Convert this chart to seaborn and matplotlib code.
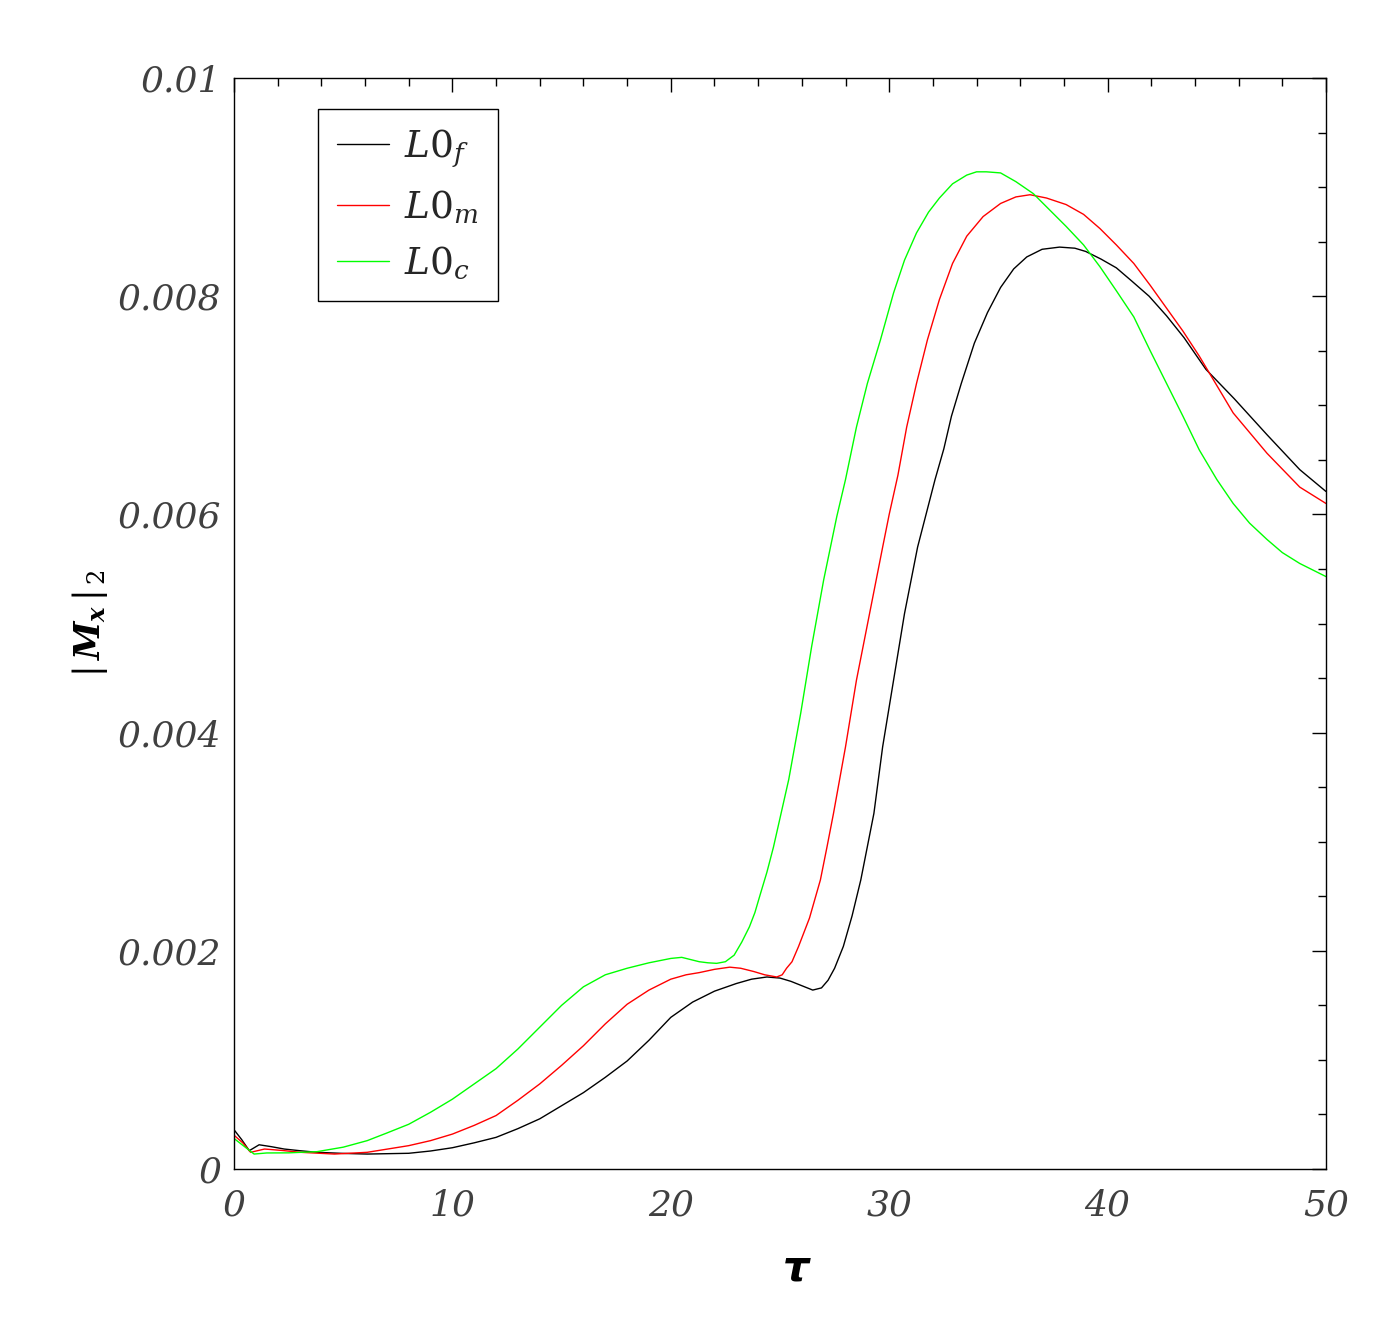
import numpy as np
import pandas as pd
import matplotlib
matplotlib.use("Agg")
import matplotlib.pyplot as plt
import seaborn as sns
from matplotlib.ticker import MultipleLocator, FixedLocator, FixedFormatter
from matplotlib.lines import Line2D

# ---------------- data ----------------
tau_f = [0, 0.35, 0.7, 1.15, 1.7, 2.3, 3.0, 3.8, 5.0, 6.1, 8.0, 9.0, 10.0, 11.0,
         12.0, 13.0, 14.0, 15.0, 16.0, 17.0, 18.0, 19.0, 20.0, 21.0, 22.0, 23.0,
         23.7, 24.4, 25.0, 25.5, 26.0, 26.5, 26.9, 27.2, 27.5, 27.9, 28.3, 28.7,
         29.3, 29.7, 30.2, 30.7, 31.3, 32.1, 32.5, 32.85, 33.3, 33.9, 34.5, 35.1,
         35.7, 36.3, 37.0, 37.8, 38.5, 39.0, 39.7, 40.4, 41.1, 41.9, 42.7, 43.5,
         44.5, 45.8, 47.3, 48.8, 50.0]
val_f = [0.00036, 0.00027, 0.000168, 0.000222, 0.000205, 0.000183, 0.000168,
         0.000153, 0.000143, 0.000137, 0.000144, 0.000165, 0.000195, 0.00024,
         0.00029, 0.00037, 0.00046, 0.00058, 0.0007, 0.00084, 0.00099, 0.00118,
         0.00139, 0.00153, 0.00163, 0.0017, 0.00174, 0.00176, 0.00175, 0.00172,
         0.00168, 0.00164, 0.00166, 0.00173, 0.00184, 0.00204, 0.00232, 0.00265,
         0.00326, 0.00387, 0.00448, 0.00509, 0.0057, 0.00632, 0.0066, 0.0069,
         0.0072, 0.00757, 0.00785, 0.00808, 0.00825, 0.00836, 0.00843, 0.00845,
         0.00844, 0.00841, 0.00834, 0.00826, 0.00814, 0.008, 0.00782, 0.00762,
         0.00733, 0.00706, 0.00673, 0.00641, 0.00621]

tau_m = [0, 0.4, 0.76, 1.4, 2.2, 3.05, 4.6, 6.1, 8.0, 9.0, 10.0, 11.0, 12.0,
         13.0, 14.0, 15.0, 16.0, 17.0, 18.0, 19.0, 20.0, 20.7, 21.3, 22.0, 22.7,
         23.2, 23.8, 24.3, 24.85, 25.1, 25.3, 25.55, 25.85, 26.35, 26.85, 27.15,
         27.45, 28.0, 28.5, 29.1, 29.7, 30.0, 30.4, 30.8, 31.25, 31.75, 32.3,
         32.9, 33.55, 34.3, 35.1, 35.8, 36.45, 37.2, 38.1, 38.9, 39.65, 40.4,
         41.2, 41.95, 42.7, 43.45, 44.2, 45.75, 47.3, 48.8, 50.0]
val_m = [0.00031, 0.00024, 0.000153, 0.000183, 0.00017, 0.000153, 0.000137,
         0.000153, 0.000214, 0.00026, 0.00032, 0.0004, 0.00049, 0.00063, 0.00078,
         0.00095, 0.00113, 0.00133, 0.00151, 0.00164, 0.00174, 0.00178, 0.0018,
         0.00183, 0.00185, 0.00184, 0.00181, 0.00178, 0.00176, 0.00178, 0.00184,
         0.0019, 0.00204, 0.0023, 0.00265, 0.00295, 0.00326, 0.00387, 0.00448,
         0.00509, 0.0057, 0.006, 0.00636, 0.0068, 0.0072, 0.0076, 0.00797,
         0.0083, 0.00855, 0.00873, 0.00885, 0.00891, 0.00893, 0.0089, 0.00884,
         0.00875, 0.00862, 0.00847, 0.0083, 0.0081, 0.00789, 0.00768, 0.00745,
         0.00693, 0.00656, 0.00625, 0.0061]

tau_c = [0, 0.45, 0.92, 1.5, 2.5, 3.8, 5.0, 6.1, 7.0, 8.0, 9.0, 10.0, 11.0,
         12.0, 13.0, 14.0, 15.0, 16.0, 17.0, 18.0, 19.0, 20.0, 20.5, 21.3, 21.7,
         22.1, 22.5, 22.9, 23.25, 23.6, 23.85, 24.1, 24.4, 24.7, 25.4, 25.95,
         26.45, 27.0, 27.6, 28.0, 28.5, 29.0, 29.6, 30.2, 30.7, 31.25, 31.8,
         32.3, 32.9, 33.55, 34.0, 34.45, 35.1, 35.8, 36.6, 37.3, 38.1, 38.9,
         39.65, 40.4, 41.2, 41.95, 42.7, 43.45, 44.2, 45.0, 45.75, 46.5, 47.3,
         48.0, 48.8, 49.4, 50.0]
val_c = [0.00028, 0.00021, 0.000137, 0.000147, 0.000148, 0.000159, 0.0002,
         0.00026, 0.00033, 0.00041, 0.00052, 0.00064, 0.00078, 0.00092, 0.0011,
         0.0013, 0.0015, 0.00167, 0.00178, 0.00184, 0.00189, 0.00193, 0.00194,
         0.0019, 0.00189, 0.001885, 0.0019, 0.00196, 0.00208, 0.00222, 0.00235,
         0.00252, 0.00272, 0.00295, 0.00357, 0.00418, 0.00479, 0.0054, 0.00598,
         0.00632, 0.0068, 0.0072, 0.0076, 0.00803, 0.00833, 0.00858, 0.00877,
         0.0089, 0.00903, 0.00911, 0.00914, 0.00914, 0.00913, 0.00905, 0.00894,
         0.0088, 0.00864, 0.00847, 0.00827, 0.00805, 0.00781, 0.0075, 0.0072,
         0.0069, 0.00659, 0.00632, 0.0061, 0.00592, 0.00577, 0.00565, 0.00555,
         0.00549, 0.00543]

series_names = [r"$\mathit{L0}_{\mathit{f}}$", r"$\mathit{L0}_{\mathit{m}}$",
                r"$\mathit{L0}_{\mathit{c}}$"]
series_colors = ["#000000", "#ff0000", "#00ff00"]

xticks = [0, 10, 20, 30, 40, 50]
xtick_labels = ["0", "10", "20", "30", "40", "50"]
yticks = [0, 0.002, 0.004, 0.006, 0.008, 0.01]
ytick_labels = ["0", "0.002", "0.004", "0.006", "0.008", "0.01"]

# ---------------- build long table ----------------
frames = []
for name, t, v in zip(series_names, [tau_f, tau_m, tau_c], [val_f, val_m, val_c]):
    assert len(t) == len(v), (name, len(t), len(v))
    frames.append(pd.DataFrame({"tau": t, "val": v, "series": name}))
df = pd.concat(frames, ignore_index=True)

# ---------------- style ----------------
sns.set_theme(style="white")
plt.rcParams["font.family"] = ["DejaVu Serif"]
plt.rcParams["mathtext.fontset"] = "custom"
plt.rcParams["mathtext.rm"] = "DejaVu Serif"
plt.rcParams["mathtext.it"] = "DejaVu Serif:italic"
plt.rcParams["mathtext.bf"] = "DejaVu Serif:italic:bold"
plt.rcParams["lines.solid_joinstyle"] = "round"

W, H = 1394, 1332
fig = plt.figure(figsize=(W / 100, H / 100), dpi=100)
fig.patch.set_facecolor("white")
ax = fig.add_axes([234 / W, 1 - 1169 / H, (1326 - 234) / W, (1169 - 78) / H])
ax.set_facecolor("white")

sns.lineplot(data=df, x="tau", y="val", hue="series",
             palette=dict(zip(series_names, series_colors)),
             estimator=None, sort=False, linewidth=1.0, ax=ax, legend=False)

ax.set_xlim(0, 50)
ax.set_ylim(0, 0.01)

tick_color = "#404040"
ax.xaxis.set_major_locator(FixedLocator(xticks))
ax.xaxis.set_major_formatter(FixedFormatter(xtick_labels))
ax.yaxis.set_major_locator(FixedLocator(yticks))
ax.yaxis.set_major_formatter(FixedFormatter(ytick_labels))
ax.xaxis.set_minor_locator(MultipleLocator(2))
ax.yaxis.set_minor_locator(MultipleLocator(0.0005))

ax.tick_params(which="both", direction="in", top=True, right=True,
               color="black", width=1.0)
ax.tick_params(which="major", length=10)
ax.tick_params(which="minor", length=5.5)
ax.tick_params(axis="x", which="major", pad=14, labelsize=26, labelcolor=tick_color)
ax.tick_params(axis="y", which="major", pad=9, labelsize=26, labelcolor=tick_color)
for lab in ax.get_xticklabels() + ax.get_yticklabels():
    lab.set_fontstyle("italic")
    lab.set_family("DejaVu Serif")

for sp in ax.spines.values():
    sp.set_color("black")
    sp.set_linewidth(1.0)

ax.set_xlabel("τ", fontfamily="DejaVu Sans", fontstyle="italic",
              fontweight="bold", fontsize=30, labelpad=18, color="black")
ax.xaxis.label.set_x(0.515)
ax.set_ylabel(r"$|\,\mathbf{M_x}\,|_{\,\mathit{2}}$", fontsize=25,
              labelpad=6, color="black")

# legend
handles = [Line2D([0], [0], color=c, lw=1.0) for c in series_colors]
leg = ax.legend(handles, series_names, loc="upper left",
                bbox_to_anchor=((318 - 234) / 1092, (1169 - 109) / 1091),
                borderaxespad=0, fontsize=27, frameon=True, fancybox=False,
                framealpha=1, edgecolor="black", handlelength=1.4,
                handletextpad=0.4, labelspacing=0.5, borderpad=0.5)
leg.get_frame().set_linewidth(1.0)

fig.savefig("out.png", dpi=100, facecolor="white")
